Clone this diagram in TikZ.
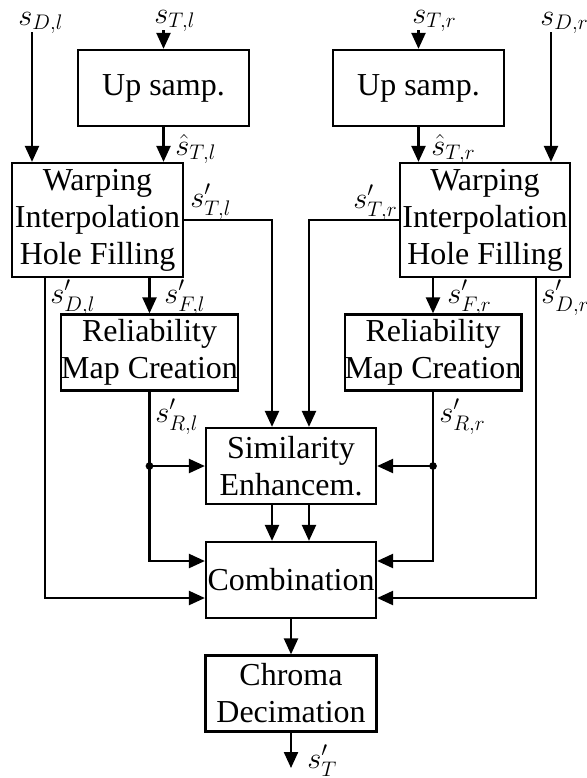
\documentclass[tikz,border=0pt]{standalone}
\usepackage{fontspec}
\setmainfont{Liberation Serif}
\usepackage{amsmath}
\usetikzlibrary{arrows.meta,positioning}

\begin{document}
\begin{tikzpicture}[x=0.02cm, y=-0.02cm,
	box/.style={draw, line width=1.3pt, inner sep=0pt, align=center, minimum width=3.42cm, minimum height=1.52cm, font=\fontsize{18.2}{21}\selectfont},
	arr/.style={line width=1.3pt, -{Triangle[length=0.32cm,width=0.28cm]}},
	lbl/.style={anchor=base west, inner sep=0pt, font=\fontsize{16.5}{18}\selectfont}]
	\useasboundingbox (0,0) rectangle (586,778);

	\node[box] (upl) at (163.5,88) {Up samp.};
	\node[box] (upr) at (418.5,88) {Up samp.};
	\node[box, minimum height=2.28cm] (warpl) at (97.5,220) {Warping\\Interpolation\\Hole Filling};
	\node[box, minimum height=2.28cm, minimum width=3.4cm] (warpr) at (485,220) {Warping\\Interpolation\\Hole Filling};
	\node[box] (rell) at (149.5,352.5) {Reliability\\Map Creation};
	\node[box] (relr) at (433,352.5) {Reliability\\Map Creation};
	\node[box, minimum width=3.4cm] (sim) at (291,466) {Similarity\\Enhancem.};
	\node[box, minimum width=3.4cm] (comb) at (291,580) {Combination};
	\node[box] (chroma) at (291,693.5) {Chroma\\Decimation};

	\node[lbl] (sdl) at (18,25) {$s_{D,l}$};
	\node[lbl] (stl) at (154,23) {$s_{T,l}$};
	\node[lbl] (str) at (412,23) {$s_{T,r}$};
	\node[lbl] (sdr) at (540,25) {$s_{D,r}$};
	\node[lbl] (hatl) at (175,155) {$\hat{s}_{T,l}$};
	\node[lbl] (hatr) at (431,155) {$\hat{s}_{T,r}$};
	\node[lbl] (tl) at (190,207) {$s'_{T,l}$};
	\node[lbl] (tr) at (353,208) {$s'_{T,r}$};
	\node[lbl] (dlp) at (50,303) {$s'_{D,l}$};
	\node[lbl] (flp) at (164,303) {$s'_{F,l}$};
	\node[lbl] (frp) at (447,303) {$s'_{F,r}$};
	\node[lbl] (drp) at (541,303) {$s'_{D,r}$};
	\node[lbl] (rl) at (155,422) {$s'_{R,l}$};
	\node[lbl] (rr) at (439,422) {$s'_{R,r}$};
	\node[lbl] (st) at (307,768) {$s'_T$};

	\coordinate (dl) at (32,0);
	\coordinate (dr) at (551,0);
	\coordinate (dlo) at (45,0);
	\coordinate (dro) at (536,0);
	\coordinate (jl) at (rell.south |- sim.west);
	\coordinate (jr) at (relr.south |- sim.east);
	\coordinate (tinl) at (0,32);
	\coordinate (tinr) at (0,30);
	\coordinate (out) at (291,768);

	\draw[arr] (tinl -| dl) -- (warpl.north -| dl);
	\draw[arr] (tinl -| dr) -- (warpr.north -| dr);
	\draw[arr] (tinr -| upl.north) -- (upl.north);
	\draw[arr] (tinr -| upr.north) -- (upr.north);
	\draw[arr] (upl.south) -- (upl.south |- warpl.north);
	\draw[arr] (upr.south) -- (upr.south |- warpr.north);
	\draw[arr] (warpl.east) -| ([xshift=-0.38cm]sim.north);
	\draw[arr] (warpr.west) -| ([xshift=0.36cm]sim.north);
	\draw[arr] (rell.north |- warpl.south) -- (rell.north);
	\draw[arr] (relr.north |- warpr.south) -- (relr.north);
	\draw[arr] (warpl.south -| dlo) |- ([yshift=-0.36cm]comb.west);
	\draw[arr] (warpr.south -| dro) |- ([yshift=-0.36cm]comb.east);
	\draw[line width=1.3pt] (rell.south) -- (jl);
	\draw[line width=1.3pt] (relr.south) -- (jr);
	\draw[arr] (jl) -- (sim.west);
	\draw[arr] (jr) -- (sim.east);
	\draw[arr] (jl) |- ([yshift=0.38cm]comb.west);
	\draw[arr] (jr) |- ([yshift=0.38cm]comb.east);
	\fill (jl) circle (2.2pt);
	\fill (jr) circle (2.2pt);
	\draw[arr] ([xshift=-0.38cm]sim.south) -- ([xshift=-0.38cm]comb.north);
	\draw[arr] ([xshift=0.36cm]sim.south) -- ([xshift=0.36cm]comb.north);
	\draw[arr] (comb.south) -- (chroma.north);
	\draw[arr] (chroma.south) -- (out);
\end{tikzpicture}
\end{document}
